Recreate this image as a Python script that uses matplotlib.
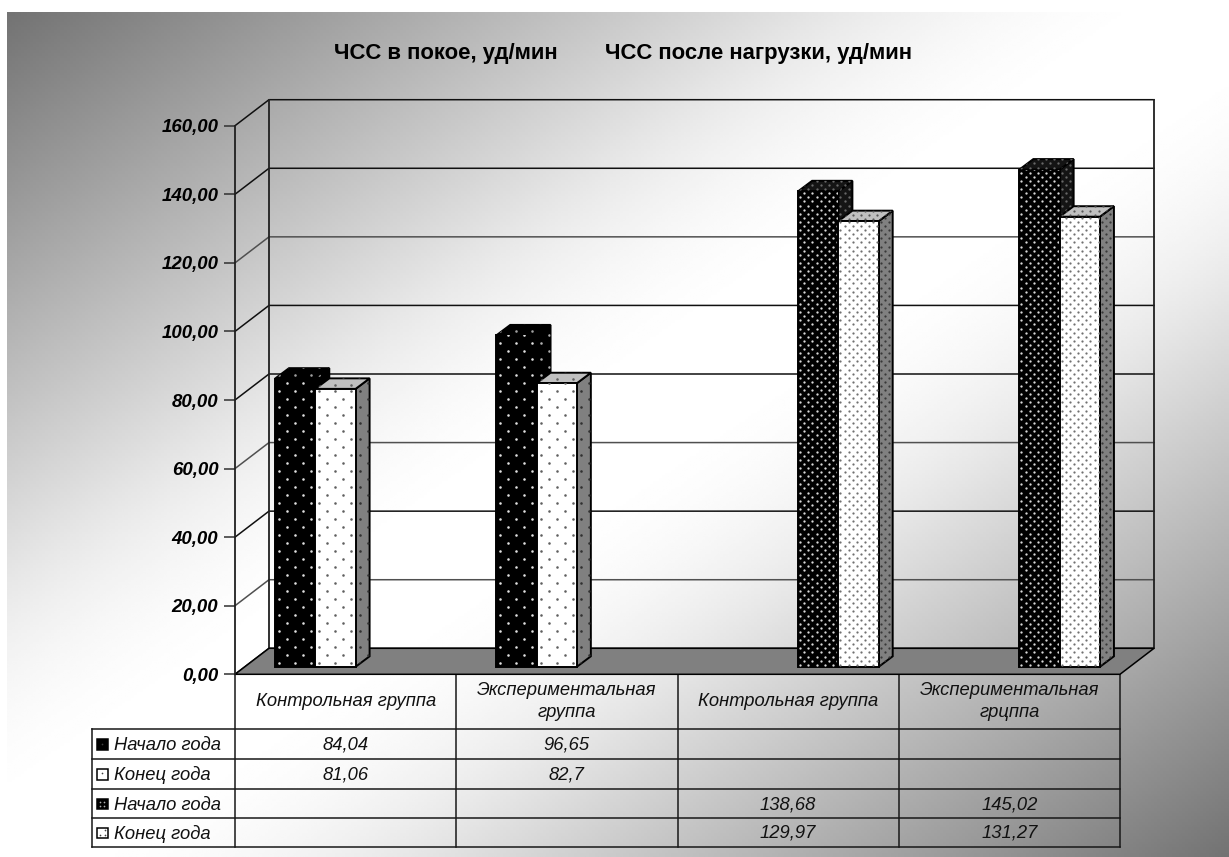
#!/usr/bin/python
# -*- coding: utf-8 -*-
import numpy as np
import matplotlib as mpl
mpl.use('Agg')
import matplotlib.pyplot as plt
from matplotlib.patches import Polygon

plt.rcParams['font.family'] = ['Liberation Sans', 'DejaVu Sans']

titles = ['ЧСС в покое, уд/мин', 'ЧСС после нагрузки, уд/мин']
categories = ['Контрольная группа', 'Экспериментальная\nгруппа',
              'Контрольная группа', 'Экспериментальная\nгрцппа']
series_names = ['Начало года', 'Конец года', 'Начало года', 'Конец года']
start_rest = [84.04, 96.65, None, None]
end_rest = [81.06, 82.7, None, None]
start_load = [None, None, 138.68, 145.02]
end_load = [None, None, 129.97, 131.27]
all_series = [start_rest, end_rest, start_load, end_load]
y_ticks = [0, 20, 40, 60, 80, 100, 120, 140, 160]

W, H = 1229, 857
X0, X1 = 235, 1120      # front edge of the floor, px
Y0, Y160 = 674.3, 125.7
DX, DY = 34, 26         # depth of the plot box, px
BAR_W = 40.3
BAR_DX, BAR_DY = 14, 10.5
BAR_LIFT = 7.5          # bars stand a little behind the front edge
BAR_GAP = 40

px_x = 4.0 / (X1 - X0)
px_y = 160.0 / (Y0 - Y160)

# face, side, top colours and dot colours, dot spacing
sparse, dense = 16.0, 8.2
styles = [
    dict(face='black', side='black', top='black', dots=('#e0e0e0', '#b0b0b0', '#a0a0a0'), step=sparse, size=3.4),
    dict(face='white', side='#808080', top='#c0c0c0', dots=('#606060', '#303030', '#606060'), step=sparse, size=3.4),
    dict(face='black', side='#141414', top='#141414', dots=('#d8d8d8', '#686868', '#686868'), step=dense, size=2.8),
    dict(face='white', side='#808080', top='#c0c0c0', dots=('#707070', '#383838', '#585858'), step=dense, size=2.6),
]
grid_colors = {120: '#505050', 60: '#505050', 20: '#505050'}


def dotted(ax, pts, color, dotcolor, st, z):
    poly = Polygon(pts, closed=True, facecolor=color, edgecolor='black', lw=1.4, zorder=z,
                   clip_on=False, joinstyle='miter')
    ax.add_patch(poly)
    pts = np.array(pts)
    step = st['step']
    rows = np.arange(pts[:, 1].min(), pts[:, 1].max(), step / 2 * px_y)
    xs, ys = [], []
    for i, r in enumerate(rows):
        shift = (i % 2) * step / 2 * px_x
        col = np.arange(pts[:, 0].min() + step / 4 * px_x + shift, pts[:, 0].max(), step * px_x)
        xs.extend(col)
        ys.extend([r + step / 4 * px_y] * len(col))
    dots = ax.scatter(xs, ys, s=st['size'], c=dotcolor, linewidths=0, zorder=z + 0.1)
    dots.set_clip_path(poly)


fig = plt.figure(figsize=(W / 100.0, H / 100.0), dpi=100)

# background and table live in pixel coordinates
bg = fig.add_axes([0, 0, 1, 1], zorder=0)
bg.axis('off')
gx, gy = np.meshgrid(np.linspace(0, 1, 400), np.linspace(0, 1, 300))
t = np.minimum(gx + gy, 2 - gx - gy)
f = np.where(t < 0.65, 1.23 * t, 0.8 + 1.23 * (t - 0.65) - 1.88 * (t - 0.65) ** 2)
shade = 115 + 140 * f
bg.imshow(shade, extent=(7, W, H, 12), cmap='gray', vmin=0, vmax=255,
          aspect='auto', interpolation='bilinear')
bg.set_xlim(0, W)
bg.set_ylim(H, 0)

bg.text(446, 53, titles[0], ha='center', va='center', fontsize=15.9, fontweight='bold')
bg.text(758.5, 53, titles[1], ha='center', va='center', fontsize=15.9, fontweight='bold')

# plot box
ax = fig.add_axes([X0 / W, 1 - Y0 / H, (X1 - X0) / W, (Y0 - Y160) / H], zorder=1)
ax.patch.set_alpha(0)
ax.set_xlim(0, 4)
ax.set_ylim(0, 160)
ax.set_xticks([])
ax.set_yticks(y_ticks)
ax.set_yticklabels([('%.2f' % v).replace('.', ',') for v in y_ticks],
                   fontsize=13.4, fontweight='bold', fontstyle='italic')
ax.tick_params(axis='y', length=8, width=1.1, pad=4, color='#303030')
for s in ['top', 'right', 'bottom']:
    ax.spines[s].set_visible(False)
ax.spines['left'].set_linewidth(1.3)
ax.spines['left'].set_color('#202020')

dx, dy = DX * px_x, DY * px_y
for v in y_ticks:
    ax.plot([0, dx, 4 + dx], [v, v + dy, v + dy], color=grid_colors.get(v, '#101010'), lw=1.1,
            clip_on=False, zorder=1, solid_joinstyle='miter')
ax.plot([dx, dx], [dy, 160 + dy], color='#202020', lw=1.3, clip_on=False, zorder=1)
ax.plot([4 + dx, 4 + dx], [dy, 160 + dy], color='#202020', lw=1.3, clip_on=False, zorder=1)
ax.add_patch(Polygon([(0, 0), (dx, dy), (4 + dx, dy), (4, 0)], closed=True, facecolor='#808080',
                     edgecolor='black', lw=1.1, clip_on=False, zorder=2))

# 3d columns
bw = BAR_W * px_x
bdx, bdy = BAR_DX * px_x, BAR_DY * px_y
base = BAR_LIFT * px_y
for s, values in enumerate(all_series):
    st = styles[s]
    for c, v in enumerate(values):
        if v is None:
            continue
        left = c + BAR_GAP * px_x + s * bw
        right = left + bw
        top = v + base
        z = 3 + c + s * 0.3
        dotted(ax, [(right, base), (right + bdx, base + bdy), (right + bdx, top + bdy), (right, top)],
               st['side'], st['dots'][1], st, z)
        dotted(ax, [(left, top), (left + bdx, top + bdy), (right + bdx, top + bdy), (right, top)],
               st['top'], st['dots'][2], st, z)
        dotted(ax, [(left, base), (right, base), (right, top), (left, top)],
               st['face'], st['dots'][0], st, z)

# data table under the chart
col_x = [X0 + i * (X1 - X0) / 4.0 for i in range(5)]
head_y, row_y = 729, [729, 759, 789, 818, 847]
left_x = 92
line = dict(color='#181818', lw=1.1, zorder=3)
for x in col_x:
    bg.plot([x, x], [Y0, row_y[-1]], **line)
bg.plot([left_x, left_x], [row_y[0], row_y[-1]], **line)
for y in row_y:
    bg.plot([left_x, X1], [y, y], **line)

for c, name in enumerate(categories):
    bg.text((col_x[c] + col_x[c + 1]) / 2.0, (Y0 + head_y) / 2.0, name, ha='center', va='center',
            fontsize=13.2, fontstyle='italic', linespacing=1.35, color='#111111')

swatch_dots = [[(0.5, 0.5)], [(0.5, 0.35)], [(0.3, 0.3), (0.7, 0.3), (0.3, 0.7), (0.7, 0.7)],
               [(0.25, 0.75), (0.75, 0.25), (0.75, 0.75)]]
for s, name in enumerate(series_names):
    yc = (row_y[s] + row_y[s + 1]) / 2.0
    bg.add_patch(plt.Rectangle((97, yc - 5), 10.5, 10.5, facecolor=styles[s]['face'],
                               edgecolor='black', lw=1.1, zorder=4))
    bg.scatter([97 + a * 10.5 for a, b in swatch_dots[s]], [yc - 5 + b * 10.5 for a, b in swatch_dots[s]],
               s=1.5, c='#b0b0b0' if s == 2 else '#404040', linewidths=0, zorder=5)
    bg.text(114, yc + 1.5, name, ha='left', va='center', fontsize=13.2, fontstyle='italic', color='#111111')
    for c, v in enumerate(all_series[s]):
        if v is not None:
            bg.text((col_x[c] + col_x[c + 1]) / 2.0, yc + 1, ('%g' % v).replace('.', ','), ha='center',
                    va='center', fontsize=13.2, fontstyle='italic', color='#111111')

plt.savefig('out.png', dpi=100)
